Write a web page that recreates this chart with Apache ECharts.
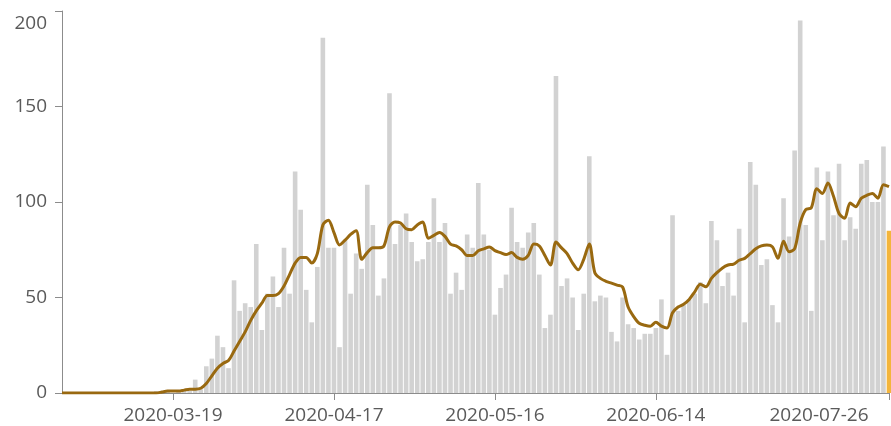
<!DOCTYPE html>
<html>
<head>
<meta charset="utf-8">
<script src="https://cdn.jsdelivr.net/npm/echarts@6/dist/echarts.min.js"></script>
<style>
html,body{margin:0;padding:0;background:#fff;}
#chart{width:891px;height:426px;}
</style>
</head>
<body>
<div id="chart"></div>
<script>
// Start date of the daily series and number of days
const startDate = '2020-02-28';
const dayCount = 150;

// Tick labels shown on the x axis
const xTickLabels = ['2020-03-19', '2020-04-17', '2020-05-16', '2020-06-14', '2020-07-26'];
// Y axis ticks
const yTicks = [0, 50, 100, 150, 200];

// Daily values (bars)
const dailyValues = [
  0,0,0,0,0,0,0,0,0,0,
  0,0,0,0,0,0,0,1,0,1,
  0,1,2,1,7,2,14,18,30,24,
  13,59,43,47,45,78,33,52,61,45,
  76,52,116,96,54,37,66,186,76,76,
  24,80,52,73,65,109,88,51,60,157,
  78,88,94,79,69,70,79,102,79,89,
  52,63,54,83,76,110,83,75,41,55,
  62,97,79,76,84,89,62,34,41,166,
  56,60,50,33,52,124,48,51,50,32,
  27,50,36,34,28,31,31,34,49,20,
  93,43,46,49,52,58,47,90,80,56,
  63,51,86,37,121,109,67,70,46,37,
  102,82,127,195,88,43,118,80,116,93,
  120,80,92,86,120,122,100,100,129,85
];

// Smoothed average line values
const averageValues = [
  0,0,0,0,0,0,0,0,0,0,
  0,0,0,0,0,0,0,0,0.5,1,
  1,1,1.5,2,2,2.5,5,9,13,15.5,
  17,22,27,32,38,43,47,51,51,52,
  56,62,68,71,71,68,73,88,90.5,84,
  77.5,80,83,85,70,73.5,76,76,77,87,
  89.5,89,86,85.5,88,89.5,81,82.5,84,82,
  78,77,75,72,72,74.5,75.5,76.5,74.5,73.5,
  72.5,73.5,71,70,72,78,77,72,67,79,
  76,73,68,64.5,70,78,63,60,58.5,57.5,
  56.5,55.5,45,40,36.5,35.5,35,37,35,34,
  42,45,46.5,49,53,57,55.6,60,63,65.5,
  67,67.5,69.5,70.5,73,75.5,77,77.5,76.5,70.5,
  79.5,74,75.5,89,96,97,107,104.5,110,103,
  94,91.5,99.5,97.5,102,103.5,104.5,102,109,108
];

// Build category dates
function buildDates(start, n) {
  const out = [];
  const d = new Date(start + 'T00:00:00Z');
  for (let i = 0; i < n; i++) {
    const c = new Date(d.getTime() + i * 86400000);
    out.push(c.toISOString().slice(0, 10));
  }
  return out;
}
const categories = buildDates(startDate, dayCount);
const lastIdx = categories.length - 1;

const barData = dailyValues.map((v, i) => i === lastIdx ? { value: v, itemStyle: { color: '#f3b53c' } } : v);

const labelColor = '#5a5a5a';
const axisColor = '#8c8c8c';
const fontFamily = '"Open Sans", "Noto Sans", sans-serif';
const fontSize = 19;

const chart = echarts.init(document.getElementById('chart'), null, { renderer: 'canvas' });
chart.setOption({
  animation: false,
  backgroundColor: '#ffffff',
  grid: { left: 62, right: 2, top: 11, bottom: 33, containLabel: false },
  xAxis: {
    type: 'category',
    data: categories,
    boundaryGap: false,
    axisLine: { show: true, lineStyle: { color: axisColor, width: 1 } },
    axisTick: {
      show: true,
      length: 7,
      lineStyle: { color: axisColor },
      interval: (idx, val) => xTickLabels.indexOf(val) >= 0
    },
    axisLabel: {
      show: true,
      interval: (idx, val) => xTickLabels.indexOf(val) >= 0,
      color: labelColor,
      fontSize: fontSize,
      fontFamily: fontFamily,
      margin: 13,
      formatter: (val, idx) => idx === lastIdx ? '{last|' + val + '}' : val,
      rich: {
        last: { color: labelColor, fontSize: fontSize, fontFamily: fontFamily, padding: [0, 140, 0, 0] }
      }
    },
    splitLine: { show: false }
  },
  yAxis: {
    type: 'value',
    min: yTicks[0],
    max: yTicks[yTicks.length - 1],
    interval: 50,
    axisLine: { show: true, lineStyle: { color: axisColor, width: 1 } },
    axisTick: { show: true, length: 7, lineStyle: { color: axisColor } },
    axisLabel: {
      color: labelColor,
      fontSize: fontSize,
      fontFamily: fontFamily,
      margin: 15,
      formatter: (v) => v === yTicks[yTicks.length - 1] ? '{top|' + v + '}' : String(v),
      rich: {
        top: { color: labelColor, fontSize: fontSize, fontFamily: fontFamily, padding: [26, 0, 0, 0] }
      }
    },
    splitLine: { show: false }
  },
  series: [
    {
      type: 'bar',
      data: barData,
      barWidth: 4.6,
      itemStyle: { color: '#d2d2d2' },
      z: 2
    },
    {
      type: 'line',
      data: averageValues,
      smooth: 0.3,
      symbol: 'none',
      lineStyle: { color: '#996910', width: 3 },
      z: 3
    }
  ]
});
</script>
</body>
</html>
